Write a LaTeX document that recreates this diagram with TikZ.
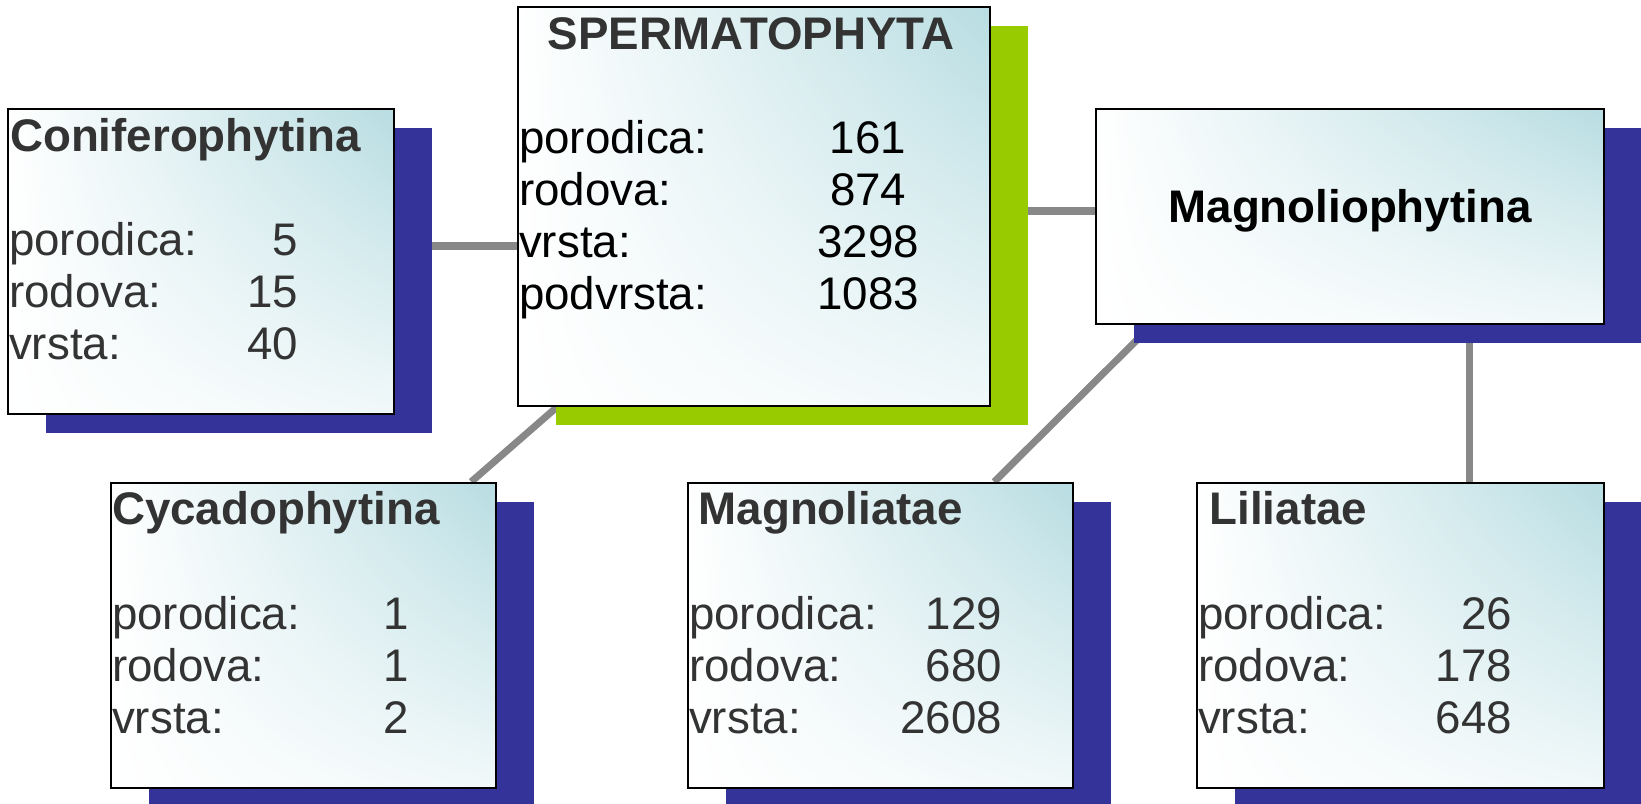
\documentclass[tikz,border=0pt]{standalone}
\usepackage{fontspec}
\setmainfont{Liberation Sans}
\usetikzlibrary{positioning}
\usetikzlibrary{shadows, shadings, backgrounds}

\definecolor{boxteal}{RGB}{184,221,226}
\definecolor{shadowblue}{RGB}{51,51,153}
\definecolor{shadowgreen}{RGB}{153,204,0}
\definecolor{textgray}{RGB}{51,51,51}
\definecolor{linkgray}{RGB}{136,136,136}

\newcommand{\statrow}[3]{\makebox[#1][l]{#2}\llap{#3}}
\newcommand{\statmid}[3]{\makebox[#1][l]{#2}\makebox[0pt]{#3}}

\tikzset{
  taxon/.style={rectangle, draw=black, line width=1.4pt, inner sep=0pt, shade,
    lower left=white, upper left=white, upper right=boxteal, lower right=boxteal!20,
    drop shadow={shadow xshift=0.76cm, shadow yshift=-0.38cm, opacity=1, fill=#1}},
  taxon/.default=shadowblue,
  taxtitle/.style={font=\bfseries\fontsize{26pt}{29.6pt}\selectfont, text=textgray, inner sep=0pt},
  taxdata/.style={font=\fontsize{26pt}{29.6pt}\selectfont, text=textgray, inner sep=0pt},
  link/.style={draw=linkgray, line width=4pt}
}

\begin{document}
\begin{tikzpicture}
\useasboundingbox (0,0) rectangle (32.82,16.08);
\clip (0,0) rectangle (32.82,16.08);

% boxes
\node[taxon, minimum width=7.72cm, minimum height=6.1cm] (coni) at (4.02,10.85) {};
\node[taxon=shadowgreen, minimum width=9.44cm, minimum height=7.98cm] (sperma) at (15.08,11.95) {};
\node[taxon, minimum width=10.16cm, minimum height=4.3cm] (magnolio) at (27.0,11.75) {};
\node[taxon, minimum width=7.7cm, minimum height=6.1cm] (cycado) at (6.07,3.37) {};
\node[taxon, minimum width=7.7cm, minimum height=6.1cm] (magnoliatae) at (17.61,3.37) {};
\node[taxon, minimum width=8.14cm, minimum height=6.1cm] (liliatae) at (28.01,3.37) {};

% Coniferophytina
\node[taxtitle, anchor=base west] (coni-title) at ([shift={(0.06,-0.87)}]coni.north west) {Coniferophytina};
\node[taxdata, below right=2.22cm and 0.04cm of coni.north west] (coni-data) {\begin{tabular}{@{}l@{}}
\statrow{5.78cm}{porodica:}{5}\\
\statrow{5.78cm}{rodova:}{15}\\
\statrow{5.78cm}{vrsta:}{40}
\end{tabular}};

% Spermatophyta
\node[taxtitle, anchor=base] (sperma-title) at ([shift={(-0.06,-0.87)}]sperma.north) {SPERMATOPHYTA};
\node[taxdata, text=black, below right=2.22cm and 0.04cm of sperma.north west] (sperma-data) {\begin{tabular}{@{}l@{}}
\statmid{6.98cm}{porodica:}{161}\\
\statmid{6.98cm}{rodova:}{874}\\
\statmid{6.98cm}{vrsta:}{3298}\\
\statmid{6.98cm}{podvrsta:}{1083}
\end{tabular}};

% Magnoliophytina
\node[taxtitle, text=black, anchor=base] (magnolio-title) at ([yshift=-0.13cm]magnolio.center) {Magnoliophytina};

% Cycadophytina
\node[taxtitle, anchor=base west] (cycado-title) at ([shift={(0.04,-0.86)}]cycado.north west) {Cycadophytina};
\node[taxdata, below right=2.21cm and 0.04cm of cycado.north west] (cycado-data) {\begin{tabular}{@{}l@{}}
\statrow{5.94cm}{porodica:}{1}\\
\statrow{5.94cm}{rodova:}{1}\\
\statrow{5.94cm}{vrsta:}{2}
\end{tabular}};

% Magnoliatae
\node[taxtitle, anchor=base west] (magnoliatae-title) at ([shift={(0.23,-0.86)}]magnoliatae.north west) {Magnoliatae};
\node[taxdata, below right=2.21cm and 0.04cm of magnoliatae.north west] (magnoliatae-data) {\begin{tabular}{@{}l@{}}
\statrow{6.26cm}{porodica:}{129}\\
\statrow{6.26cm}{rodova:}{680}\\
\statrow{6.26cm}{vrsta:}{2608}
\end{tabular}};

% Liliatae
\node[taxtitle, anchor=base west] (liliatae-title) at ([shift={(0.27,-0.86)}]liliatae.north west) {Liliatae};
\node[taxdata, below right=2.21cm and 0.04cm of liliatae.north west] (liliatae-data) {\begin{tabular}{@{}l@{}}
\statrow{6.28cm}{porodica:}{26}\\
\statrow{6.28cm}{rodova:}{178}\\
\statrow{6.28cm}{vrsta:}{648}
\end{tabular}};

% connectors
\begin{scope}[on background layer]
\coordinate (c1) at ([yshift=0.31cm]coni.east);
\draw[link] (c1) -- (c1 -| sperma.west);
\coordinate (c2) at ([yshift=0.11cm]magnolio.west);
\draw[link] (c2) -- (c2 -| sperma.east);
\draw[link] ([xshift=0.8cm]sperma.south west) -- ([xshift=-0.52cm]cycado.north east);
\draw[link] ([xshift=1.14cm]magnolio.south west) -- ([xshift=-1.6cm]magnoliatae.north east);
\coordinate (c5) at ([xshift=2.38cm]magnolio.south);
\draw[link] (c5) -- (c5 |- liliatae.north);
\end{scope}

\end{tikzpicture}
\end{document}
